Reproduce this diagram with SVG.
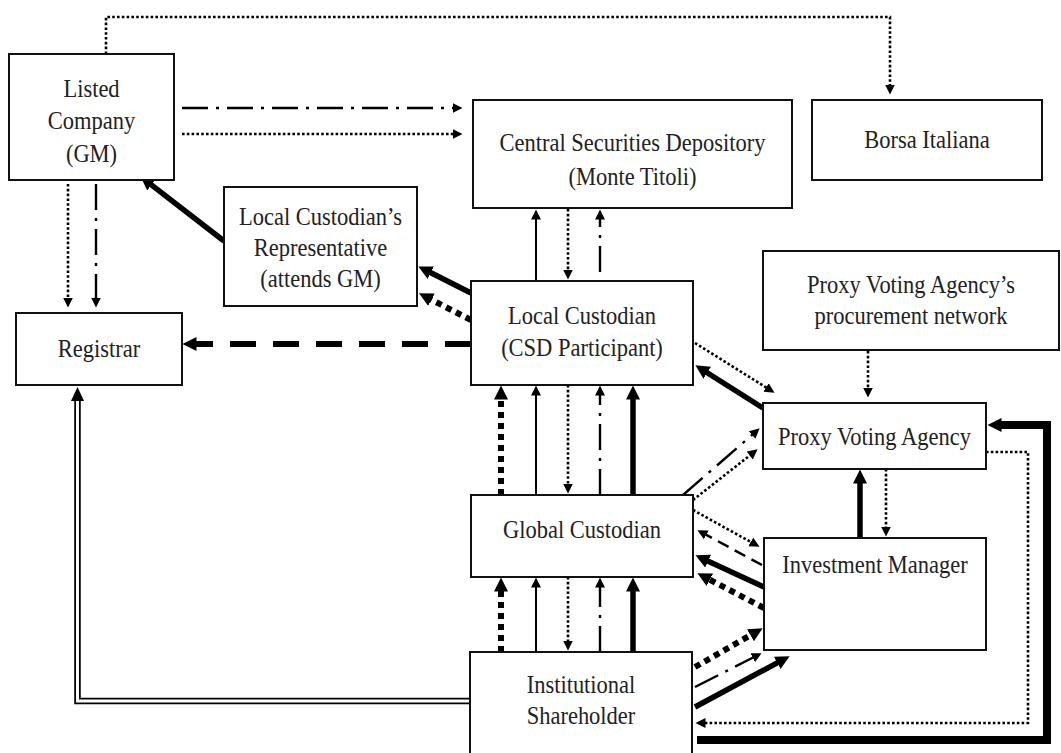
<svg xmlns="http://www.w3.org/2000/svg" width="1061" height="753" viewBox="0 0 1061 753">
<style>
.box{fill:#fff;stroke:#111;stroke-width:2}
.t{font-family:"Liberation Serif","Times New Roman",serif;font-size:25px;text-anchor:middle;fill:#222}
.c{fill:none;stroke:#000}
.dot{stroke-width:2.6;stroke-dasharray:2.6 2.2}
.dd{stroke-width:2.4;stroke-dasharray:26 8 3 8}
.sol{stroke-width:2}
.thk{stroke-width:5.5}
.tdot{stroke-width:6;stroke-dasharray:6 5}
.tdash{stroke-width:6;stroke-dasharray:26 17}
.dash{stroke-width:2.5;stroke-dasharray:12 7}
.a{marker-end:url(#ah)}
.ak{marker-end:url(#ahk)}
.dbl-out{fill:none;stroke:#000;stroke-width:6.5}
.dbl-in{fill:none;stroke:#fff;stroke-width:3}
</style>
<defs>
<marker id="ah" markerUnits="userSpaceOnUse" viewBox="0 -6 12 12" markerWidth="12" markerHeight="12" refX="0.5" refY="0" orient="auto">
<path d="M0,-5 L10,0 L0,5 z" fill="#000"/>
</marker>
<marker id="ahk" markerUnits="userSpaceOnUse" viewBox="0 -8 16 16" markerWidth="16" markerHeight="16" refX="0.5" refY="0" orient="auto">
<path d="M0,-7 L14,0 L0,7 z" fill="#000"/>
</marker>
</defs>
<rect width="1061" height="753" fill="#fff"/>

<g id="connectors">
<!-- Listed -> Borsa -->
<path class="c dot a" d="M106,54 V17 H890 V85"/>
<!-- Listed -> CSD -->
<path class="c dd a" d="M182,108 H453"/>
<path class="c dot a" d="M182,134 H453"/>
<!-- Listed -> Registrar -->
<path class="c dot a" d="M68,184 V298"/>
<path class="c dd a" d="M96,184 V298"/>
<!-- Rep -> Listed -->
<path class="c thk ak" d="M224,241 L151.1,184.6"/>
<!-- LC -> Rep -->
<path class="c thk ak" d="M471,293 L430.4,272.5"/>
<path class="c tdot ak" d="M471,320 L431,299.5"/>
<!-- LC -> Registrar -->
<path class="c tdash ak" d="M471,344 H196"/>
<!-- LC <-> CSD -->
<path class="c sol a" d="M536,281 V219"/>
<path class="c dot a" d="M568,209 V270"/>
<path class="c dd a" d="M600,272 V219"/>
<!-- GC <-> LC -->
<path class="c tdot ak" d="M501,495 V399"/>
<path class="c sol a" d="M536,495 V395"/>
<path class="c dot a" d="M568,385 V484"/>
<path class="c dd a" d="M600,495 V395"/>
<path class="c thk ak" d="M633,495 V399"/>
<!-- IS <-> GC -->
<path class="c tdot ak" d="M501,652 V591"/>
<path class="c sol a" d="M536,652 V587"/>
<path class="c dot a" d="M568,577 V641"/>
<path class="c dd a" d="M600,652 V587"/>
<path class="c thk ak" d="M633,652 V591"/>
<!-- Procurement -> PVA -->
<path class="c dot a" d="M868,351 V388"/>
<!-- PVA <-> IM -->
<path class="c thk ak" d="M860,538 V483"/>
<path class="c dot a" d="M886,469 V527"/>
<!-- PVA <-> LC -->
<path class="c thk ak" d="M763,408 L706.8,372.5"/>
<path class="c dot a" d="M695,343 L766.5,387.7"/>
<!-- GC -> PVA -->
<path class="c dd a" d="M683,495 L752.5,434.6"/>
<path class="c dot a" d="M693,500 L750.1,455.2"/>
<!-- GC <-> IM -->
<path class="c dot a" d="M693,510 L751.2,542.2"/>
<path class="c dash a" d="M762,565 L705.8,534.7"/>
<path class="c thk ak" d="M764,587 L707.7,560.9"/>
<path class="c tdot ak" d="M764,608 L709.4,579.5"/>
<!-- IS -> IM -->
<path class="c tdot ak" d="M695,667 L750.9,635"/>
<path class="c dd a" d="M695,687 L753.1,657.5"/>
<path class="c thk ak" d="M695,707 L777.7,662.6"/>
<!-- PVA -> IS -->
<path class="c dot a" d="M986,452 H1028 V723 H705"/>
<!-- IS -> PVA -->
<path class="c ak" stroke-width="8" d="M697,740 H1047 V425 H1001"/>
<!-- IS -> Registrar (double line) -->
<path class="dbl-out" d="M470,701 H77.5 V399"/>
<path class="dbl-in" d="M471,701 H77.5 V398"/>
<path d="M71,401 L77.5,387 L84,401 z" fill="#000"/>
</g>

<g id="listed-company">
<rect class="box" x="9" y="54" width="165" height="126"/>
<text class="t" transform="translate(91.5,0) scale(0.9,1)" y="97">Listed</text>
<text class="t" transform="translate(91.5,0) scale(0.9,1)" y="129">Company</text>
<text class="t" transform="translate(91.5,0) scale(0.9,1)" y="162">(GM)</text>
</g>
<g id="csd">
<rect class="box" x="473" y="100" width="319" height="108"/>
<text class="t" transform="translate(632.5,0) scale(0.9,1)" y="151">Central Securities Depository</text>
<text class="t" transform="translate(632.5,0) scale(0.9,1)" y="185">(Monte Titoli)</text>
</g>
<g id="borsa">
<rect class="box" x="812" y="100" width="230" height="80"/>
<text class="t" transform="translate(927,0) scale(0.9,1)" y="148">Borsa Italiana</text>
</g>
<g id="representative">
<rect class="box" x="224" y="187" width="193" height="119"/>
<text class="t" transform="translate(320.5,0) scale(0.9,1)" y="225">Local Custodian’s</text>
<text class="t" transform="translate(320.5,0) scale(0.9,1)" y="256">Representative</text>
<text class="t" transform="translate(320.5,0) scale(0.9,1)" y="287">(attends GM)</text>
</g>
<g id="registrar">
<rect class="box" x="16" y="313" width="166" height="72"/>
<text class="t" transform="translate(99,0) scale(0.9,1)" y="357">Registrar</text>
</g>
<g id="local-custodian">
<rect class="box" x="471" y="281" width="222" height="104"/>
<text class="t" transform="translate(582,0) scale(0.9,1)" y="324">Local Custodian</text>
<text class="t" transform="translate(582,0) scale(0.9,1)" y="356">(CSD Participant)</text>
</g>
<g id="procurement-network">
<rect class="box" x="763" y="251" width="296" height="99"/>
<text class="t" transform="translate(911,0) scale(0.9,1)" y="293">Proxy Voting Agency’s</text>
<text class="t" transform="translate(911,0) scale(0.9,1)" y="324">procurement network</text>
</g>
<g id="proxy-voting-agency">
<rect class="box" x="763" y="403" width="223" height="66"/>
<text class="t" transform="translate(874.5,0) scale(0.9,1)" y="445">Proxy Voting Agency</text>
</g>
<g id="global-custodian">
<rect class="box" x="471" y="495" width="222" height="82"/>
<text class="t" transform="translate(582,0) scale(0.9,1)" y="538">Global Custodian</text>
</g>
<g id="investment-manager">
<rect class="box" x="764" y="538" width="222" height="112"/>
<text class="t" transform="translate(875,0) scale(0.9,1)" y="573">Investment Manager</text>
</g>
<g id="institutional-shareholder">
<rect class="box" x="470" y="652" width="222" height="110"/>
<text class="t" transform="translate(581,0) scale(0.9,1)" y="693">Institutional</text>
<text class="t" transform="translate(581,0) scale(0.9,1)" y="724">Shareholder</text>
</g>
</svg>
